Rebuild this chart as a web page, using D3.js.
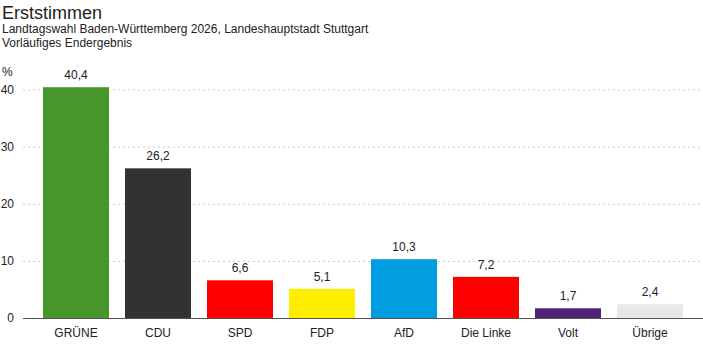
<!DOCTYPE html>
<html>
<head>
<meta charset="utf-8">
<style>
  body { margin: 0; background: #fff; font-family: "Liberation Sans", Arial, sans-serif; }
  .grid line { stroke: #ccc; stroke-dasharray: 2,3; }
  text { fill: #222; }
</style>
</head>
<body>
<div id="chart"></div>
<script src="https://cdn.jsdelivr.net/npm/d3@7"></script>
<script>
var parties = ["GRÜNE", "CDU", "SPD", "FDP", "AfD", "Die Linke", "Volt", "Übrige"];
var shares = [40.4, 26.2, 6.6, 5.1, 10.3, 7.2, 1.7, 2.4];
var colors = ["#46962b", "#323232", "#ff0000", "#ffed00", "#009ee0", "#ff0000", "#502379", "#e8e8e8"];
var yTicks = [0, 10, 20, 30, 40];

var width = 703, height = 352;

var svg = d3.select("#chart").append("svg")
    .attr("width", width)
    .attr("height", height);

var x = d3.scaleBand()
    .domain(parties)
    .range([35, 691])
    .paddingInner(16 / 82)
    .paddingOuter(8 / 82);

var y = d3.scaleLinear().domain([0, 40]).range([318, 89.5]);

// titles
svg.append("text").attr("x", 2).attr("y", 19)
    .style("font-size", "18px").text("Erststimmen");
svg.append("text").attr("x", 2).attr("y", 33)
    .style("font-size", "12px").text("Landtagswahl Baden-Württemberg 2026, Landeshauptstadt Stuttgart");
svg.append("text").attr("x", 2).attr("y", 47)
    .style("font-size", "12px").text("Vorläufiges Endergebnis");

// grid
var grid = svg.append("g").attr("class", "grid");
grid.selectAll("line").data(yTicks.filter(d => d > 0)).enter().append("line")
    .attr("x1", 23).attr("x2", width)
    .attr("y1", d => y(d) + 0.5).attr("y2", d => y(d) + 0.5);

// y tick labels
svg.selectAll(".ylab").data(yTicks).enter().append("text")
    .attr("class", "ylab")
    .attr("x", 14).attr("y", d => y(d) + 4)
    .attr("text-anchor", "end")
    .style("font-size", "12px")
    .text(d => d);
svg.append("text").attr("x", 2).attr("y", 76)
    .style("font-size", "12px").text("%");

// bars
var data = parties.map((p, i) => ({party: p, value: shares[i], color: colors[i]}));

svg.selectAll(".bar").data(data).enter().append("rect")
    .attr("class", "bar")
    .attr("x", d => x(d.party))
    .attr("width", x.bandwidth())
    .attr("y", d => y(d.value))
    .attr("height", d => y(0) - y(d.value))
    .attr("fill", d => d.color);

svg.selectAll(".val").data(data).enter().append("text")
    .attr("class", "val")
    .attr("x", d => x(d.party) + x.bandwidth() / 2)
    .attr("y", d => y(d.value) - 8)
    .attr("text-anchor", "middle")
    .style("font-size", "12px")
    .text(d => d.value.toFixed(1).replace(".", ","));

// baseline
svg.append("line")
    .attr("x1", 23).attr("x2", width)
    .attr("y1", y(0) + 0.5).attr("y2", y(0) + 0.5)
    .attr("stroke", "#555");

// category labels
svg.selectAll(".cat").data(parties).enter().append("text")
    .attr("class", "cat")
    .attr("x", d => x(d) + x.bandwidth() / 2)
    .attr("y", 337)
    .attr("text-anchor", "middle")
    .style("font-size", "12px")
    .text(d => d);
</script>
</body>
</html>
